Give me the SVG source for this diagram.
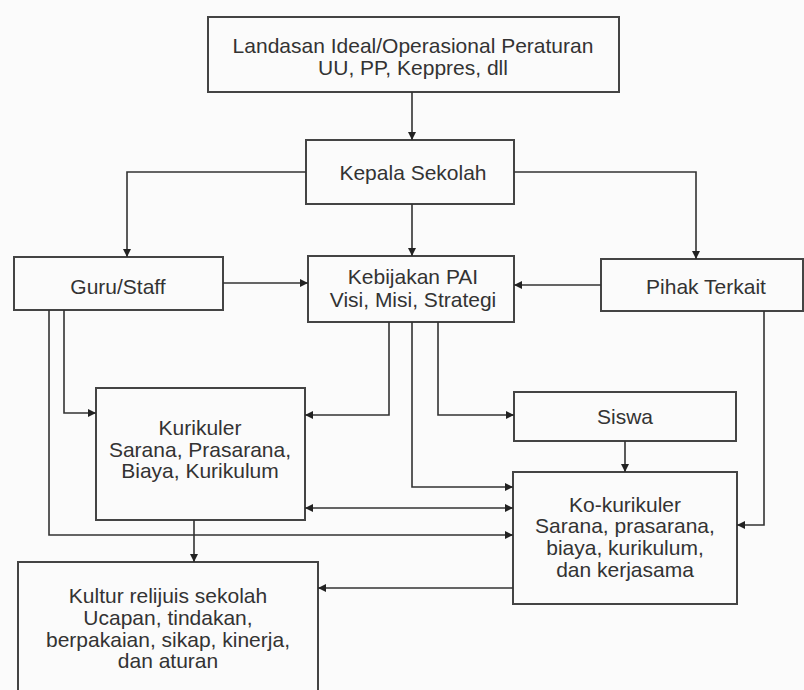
<svg xmlns="http://www.w3.org/2000/svg" width="804" height="690" viewBox="0 0 804 690">
<style>
.box{fill:none;stroke:#444;stroke-width:2}
.t{font-family:"Liberation Sans",Arial,sans-serif;font-size:21px;fill:#333;text-anchor:middle}
.c{fill:none;stroke:#333;stroke-width:1.6}
.a{marker-end:url(#ah)}
</style>
<defs>
<marker id="ah" viewBox="0 0 10 10" refX="10" refY="5" markerWidth="9" markerHeight="8" markerUnits="userSpaceOnUse" orient="auto-start-reverse">
<path d="M0,0 L10,5 L0,10 z" fill="#222"/>
</marker>
</defs>
<rect width="804" height="690" fill="#fbfbfb"/>
<g id="landasan">
<rect class="box" x="208" y="17" width="411" height="75"/>
<text class="t" x="413" y="53">Landasan Ideal/Operasional Peraturan</text>
<text class="t" x="413" y="75">UU, PP, Keppres, dll</text>
</g>
<g id="kepala">
<rect class="box" x="306" y="140" width="208" height="64"/>
<text class="t" x="413" y="180">Kepala Sekolah</text>
</g>
<g id="guru">
<rect class="box" x="14" y="257" width="209" height="53"/>
<text class="t" x="118" y="294">Guru/Staff</text>
</g>
<g id="kebijakan">
<rect class="box" x="308" y="256" width="206" height="66"/>
<text class="t" x="413" y="284">Kebijakan PAI</text>
<text class="t" x="413" y="307">Visi, Misi, Strategi</text>
</g>
<g id="pihak">
<rect class="box" x="601" y="259" width="202" height="52"/>
<text class="t" x="706" y="294">Pihak Terkait</text>
</g>
<g id="kurikuler">
<rect class="box" x="96" y="388" width="209" height="132"/>
<text class="t" x="200" y="435">Kurikuler</text>
<text class="t" x="200" y="457">Sarana, Prasarana,</text>
<text class="t" x="200" y="478">Biaya, Kurikulum</text>
</g>
<g id="siswa">
<rect class="box" x="514" y="392" width="222" height="49"/>
<text class="t" x="625" y="424">Siswa</text>
</g>
<g id="kokurikuler">
<rect class="box" x="513" y="472" width="224" height="132"/>
<text class="t" x="625" y="512">Ko-kurikuler</text>
<text class="t" x="625" y="533">Sarana, prasarana,</text>
<text class="t" x="625" y="555">biaya, kurikulum,</text>
<text class="t" x="625" y="577">dan kerjasama</text>
</g>
<g id="kultur">
<rect class="box" x="18" y="562" width="300" height="140"/>
<text class="t" x="168" y="603">Kultur relijuis sekolah</text>
<text class="t" x="168" y="625">Ucapan, tindakan,</text>
<text class="t" x="168" y="647">berpakaian, sikap, kinerja,</text>
<text class="t" x="168" y="668">dan aturan</text>
</g>
<g id="connectors">
<path class="c a" d="M412,92 V140"/>
<path class="c a" d="M306,172 H127 V257"/>
<path class="c a" d="M514,172 H696 V259"/>
<path class="c a" d="M412,204 V256"/>
<path class="c a" d="M223,283 H308"/>
<path class="c a" d="M601,285 H514"/>
<path class="c a" d="M64,310 V413 H96"/>
<path class="c a" d="M49,310 V535 H513"/>
<path class="c a" d="M389,322 V415 H305"/>
<path class="c a" d="M412,322 V487 H513"/>
<path class="c a" d="M438,322 V415 H514"/>
<path class="c a" d="M625,441 V472"/>
<path class="c a" d="M764,311 V525 H737"/>
<path class="c a" d="M305,508 H513" marker-start="url(#ah)"/>
<path class="c a" d="M194,520 V562"/>
<path class="c a" d="M513,588 H318"/>
</g>
</svg>
